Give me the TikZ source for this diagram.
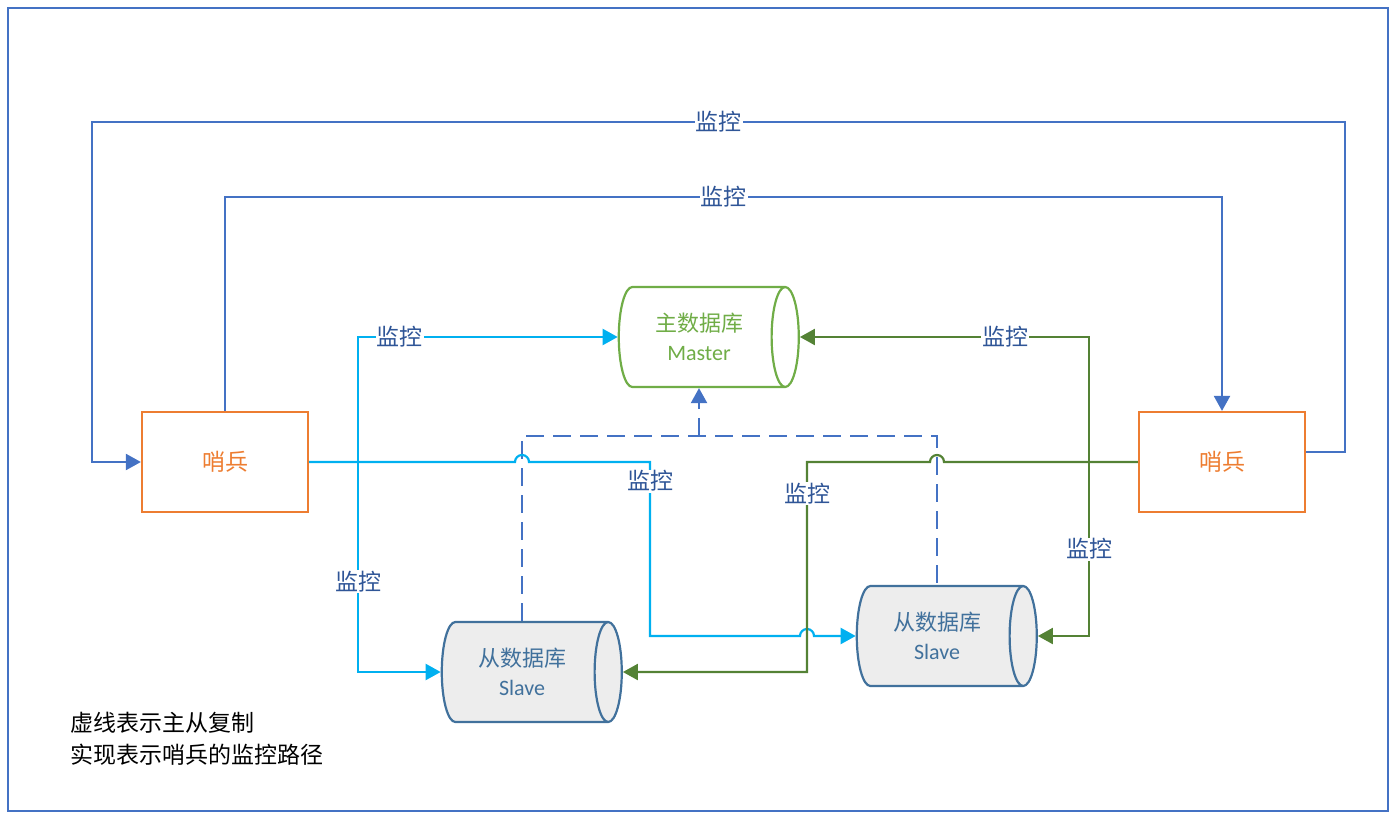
\documentclass[tikz,border=0pt]{standalone}
\usepackage{fontspec}
\setmainfont{Carlito}
\newfontfamily\cjk{Noto Sans CJK SC}
\usetikzlibrary{arrows.meta,shapes.geometric}

\definecolor{framecol}{HTML}{4472C4}
\definecolor{labelcol}{HTML}{2F5597}
\definecolor{sentcol}{HTML}{ED7D31}
\definecolor{mastercol}{HTML}{70AD47}
\definecolor{slavecol}{HTML}{41719C}
\definecolor{slavefill}{HTML}{EDEDED}
\definecolor{cyancol}{HTML}{00B0F0}
\definecolor{greencol}{HTML}{548235}

\begin{document}
\begin{tikzpicture}[x=1pt,y=-1pt,line width=2.2pt,
  tip/.style={-{Triangle[length=15pt,width=16pt]}},
  sentinel/.style={draw=sentcol,text=sentcol,minimum width=166pt,minimum height=100pt,
    font=\cjk\fontsize{23pt}{26pt}\selectfont},
  dbase/.style={cylinder,shape border rotate=0,aspect=0.5,minimum height=180pt,minimum width=100pt,
    align=center,font=\fontsize{22pt}{29pt}\selectfont},
  lbl/.style={fill=white,inner sep=1pt,text=labelcol,font=\cjk\fontsize{23pt}{26pt}\selectfont},
  bluepath/.style={draw=framecol,tip},
  cyanpath/.style={draw=cyancol,tip},
  greenpath/.style={draw=greencol,tip},
  replpath/.style={draw=framecol,dash pattern=on 18pt off 9pt}]

  \useasboundingbox (0,0) rectangle (1400,827);
  \draw[framecol] (8,8) rectangle (1388,811);

  % Sentinels and databases
  \node[sentinel] (sentL) at (225,462) {哨兵};
  \node[sentinel] (sentR) at (1222,462) {哨兵};
  \node[dbase,draw=mastercol,text=mastercol,fill=white] (master) at (699,337) {{\cjk 主数据库}\\Master};
  \node[dbase,draw=slavecol,text=slavecol,fill=slavefill] (slaveL) at (522,672) {{\cjk 从数据库}\\Slave};
  \node[dbase,draw=slavecol,text=slavecol,fill=slavefill] (slaveR) at (937,636) {{\cjk 从数据库}\\Slave};

  % Sentinels watching each other
  \draw[bluepath] ([yshift=10pt]sentR.east) -- (1345,452) -- (1345,122)
    -- node[lbl]{监控} (92,122) -- (92,462) -- (sentL.west);
  \draw[bluepath] (sentL.north) -- (225,197) -- node[lbl]{监控} (1222,197) -- (sentR.north);

  % Master-slave replication
  \draw[replpath] (slaveL.north) -- (slaveL.north |- 0,436) -| (slaveR.north);
  \draw[replpath,tip] (master.south |- 0,436) -- (master.south);

  % Left sentinel
  \draw[cyanpath] (sentL.east) -- (358,462) |- node[lbl,pos=0.58]{监控} (master.west);
  \draw[cyanpath] (sentL.east) -- (358,462) |- node[lbl,pos=0.285]{监控} (slaveL.west);
  \draw[cyanpath] (sentL.east) -- (515,462) arc (180:0:7pt) -- (650,462)
    -- node[lbl,pos=0.11]{监控} (650,636) -- (800,636) arc (180:0:7pt) -- (slaveR.west);

  % Right sentinel
  \draw[greenpath] (sentR.west) -- (1089,462) |- node[lbl,pos=0.645]{监控} (master.east);
  \draw[greenpath] (sentR.west) -- (1089,462) |- node[lbl,pos=0.25]{监控} (slaveR.east);
  \draw[greenpath] (sentR.west) -- (944,462) arc (0:180:7pt) -- (807,462)
    -- node[lbl,pos=0.15]{监控} (807,672) -- (slaveL.east);

  \node[align=left,anchor=west,font=\cjk\fontsize{23pt}{32pt}\selectfont] (note) at (66,739)
    {虚线表示主从复制\\实现表示哨兵的监控路径};
\end{tikzpicture}
\end{document}
